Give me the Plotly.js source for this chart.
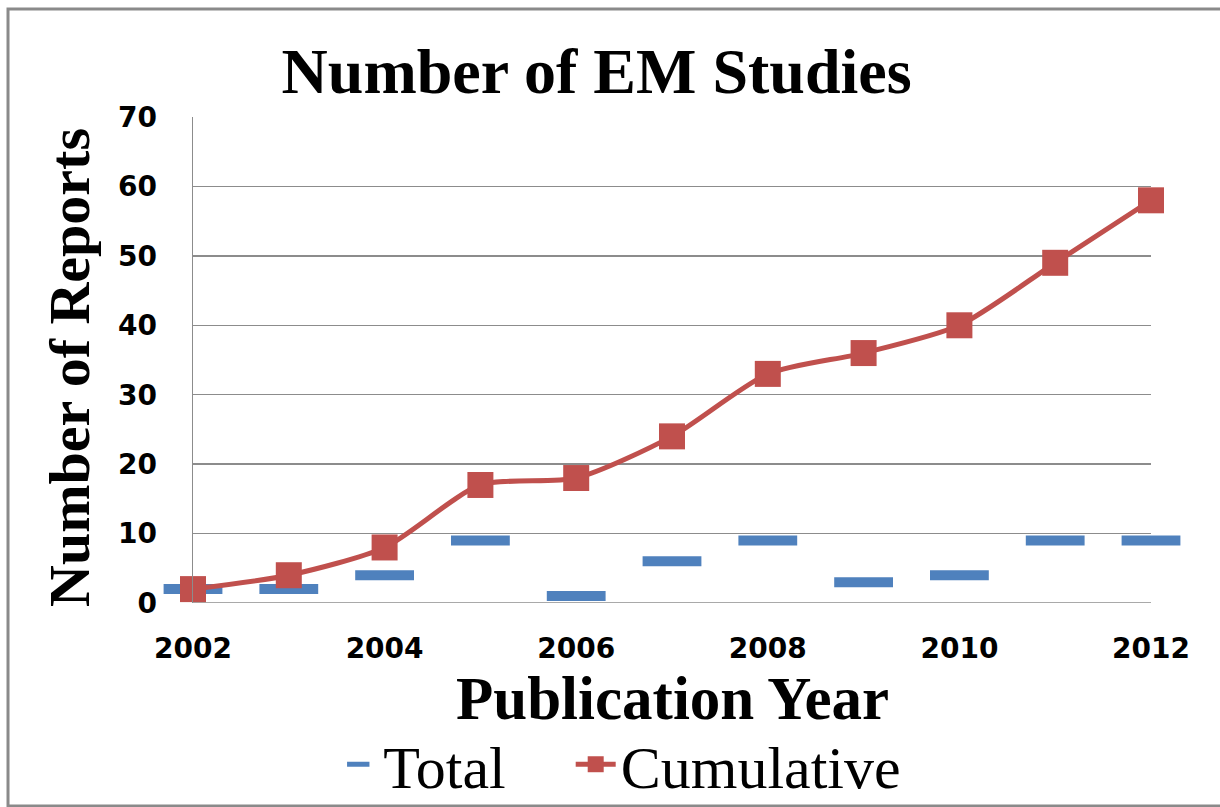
<!DOCTYPE html>
<html>
<head>
<meta charset="utf-8">
<script src="https://cdn.plot.ly/plotly-3.0.1.min.js"></script>
<style>
  html, body { margin: 0; padding: 0; background: #fff; }
  #chart { width: 1220px; height: 807px; }
</style>
</head>
<body>
<div id="chart"></div>
<script>
const years = [2002, 2003, 2004, 2005, 2006, 2007, 2008, 2009, 2010, 2011, 2012];
const totalReports = [2, 2, 4, 9, 1, 6, 9, 3, 4, 9, 9];
const cumulativeReports = [2, 4, 8, 17, 18, 24, 33, 36, 40, 49, 58];
const xTickYears = [2002, 2004, 2006, 2008, 2010, 2012];
const yTickValues = [0, 10, 20, 30, 40, 50, 60, 70];

const serif = '"Liberation Serif", "DejaVu Serif", serif';
const sans = '"DejaVu Sans", "Noto Sans", sans-serif';

const traces = [
  {
    name: 'Total\u00a0\u00a0\u00a0\u00a0',
    x: years,
    y: totalReports,
    type: 'scatter',
    mode: 'markers',
    cliponaxis: false,
    marker: {
      symbol: 'line-ew',
      size: 42,
      color: '#4F81BD',
      line: { color: '#4F81BD', width: 10 }
    }
  },
  {
    name: 'Cumulative',
    x: years,
    y: cumulativeReports,
    type: 'scatter',
    mode: 'lines+markers',
    cliponaxis: false,
    line: { color: '#C0504D', width: 5, shape: 'spline', smoothing: 0.7 },
    marker: { symbol: 'square', size: 26, color: '#C0504D' }
  }
];

const layout = {
  width: 1220,
  height: 807,
  margin: { l: 193, r: 69, t: 117, b: 204 },
  paper_bgcolor: '#ffffff',
  plot_bgcolor: '#ffffff',
  showlegend: true,
  title: {
    text: '<b>Number of EM Studies</b>',
    font: { family: serif, size: 64, color: '#000' },
    x: 0.489,
    xref: 'container',
    xanchor: 'center',
    y: 0.913,
    yref: 'container',
    yanchor: 'middle'
  },
  xaxis: {
    range: [2002, 2012],
    tickvals: xTickYears,
    ticktext: xTickYears.map(String),
    showgrid: false,
    zeroline: false,
    showline: false,
    ticks: 'outside',
    ticklen: 20,
    tickcolor: 'rgba(0,0,0,0)',
    tickfont: { family: sans, size: 28, color: '#000', weight: 'bold' }
  },
  yaxis: {
    range: [0, 70],
    tickvals: yTickValues,
    showgrid: true,
    gridcolor: '#8c8c8c',
    gridwidth: 1.5,
    zeroline: false,
    showline: true,
    linecolor: '#8c8c8c',
    linewidth: 1.5,
    ticks: 'outside',
    ticklen: 29,
    tickcolor: 'rgba(0,0,0,0)',
    tickfont: { family: sans, size: 28, color: '#000', weight: 'bold' }
  },
  annotations: [
    {
      text: '<b>Publication Year</b>',
      xref: 'paper', yref: 'paper',
      x: 0.5, y: -0.1955,
      xanchor: 'center', yanchor: 'middle',
      showarrow: false,
      font: { family: serif, size: 61, color: '#000' }
    },
    {
      text: '<b>Number of Reports</b>',
      xref: 'paper', yref: 'paper',
      x: -0.1284, y: 0.4856,
      xanchor: 'center', yanchor: 'middle',
      textangle: -90,
      showarrow: false,
      font: { family: serif, size: 58, color: '#000' }
    }
  ],
  legend: {
    orientation: 'h',
    x: 0.508,
    xref: 'container',
    xanchor: 'center',
    y: 0.053,
    yref: 'container',
    yanchor: 'middle',
    font: { family: serif, size: 60, color: '#000' },
    itemwidth: 40,
    bgcolor: 'rgba(0,0,0,0)'
  },
  shapes: [
    {
      type: 'rect',
      xref: 'paper', yref: 'paper',
      x0: -0.1931, x1: 1.077, y0: -0.4177, y1: 1.2222,
      line: { color: '#8a8a8a', width: 3 },
      fillcolor: 'rgba(0,0,0,0)',
      layer: 'below'
    },
    {
      type: 'line',
      xref: 'paper', yref: 'y',
      x0: 0, x1: 1, y0: 0, y1: 0,
      line: { color: '#8c8c8c', width: 1.5 },
      layer: 'below'
    }
  ]
};

Plotly.newPlot('chart', traces, layout, { displayModeBar: false, staticPlot: true });
</script>
</body>
</html>
